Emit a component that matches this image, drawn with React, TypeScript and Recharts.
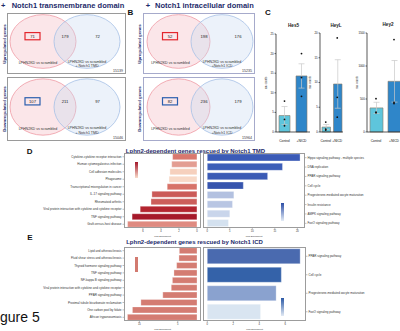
import React from 'react';
import {
  ScatterChart,
  Scatter,
  XAxis,
  YAxis,
  BarChart,
  Bar,
  Cell,
  ComposedChart,
  Line,
  ErrorBar,
} from 'recharts';

const FONT = '"Liberation Sans", Arial, Helvetica, sans-serif';
const NAVY = '#1d2a6a';

// Venn counts, always [LPHN2KD only, shared, rescue only]
const vennRegions = ['LPHN2KD only', 'shared', 'rescue only'];
const tmdUpCounts = [71, 179, 72];
const tmdDownCounts = [107, 211, 97];
const icdUpCounts = [52, 198, 176];
const icdDownCounts = [82, 236, 179];
const vennTotals = [15139, 15046, 15235, 15964];

// C: raw counts, Control vs +NICD
const cGroups = ['Control', '+NICD'];
const hes5Mean = [4.2, 14.3];
const hes5Err = [2.3, 3.1];
const hes5Points = [[7.9, 3.2, 1.6], [20, 13.9, 9.1]];
const heyLMean = [1.0, 9.7];
const heyLErr = [0.5, 4.9];
const heyLPoints = [[2.0, 0.6, 0.4], [19, 7, 3]];
const hey2Mean = [365, 768];
const hey2Err = [85, 315];
const hey2Points = [[505, 300, 290], [1400, 430, 450]];
const hes5Ticks = [0, 5, 10, 15, 20, 25];
const heyLTicks = [0, 5, 10, 15, 20];
const hey2Ticks = [0, 500, 1000, 1500];

// D: rescued by Notch1 TMD
const tmdRedTerms = [
  'Cytokine-cytokine receptor interaction',
  'Human cytomegalovirus infection',
  'Cell adhesion molecules',
  'Phagosome',
  'Transcriptional misregulation in cancer',
  'IL-17 signaling pathway',
  'Rheumatoid arthritis',
  'Viral protein interaction with cytokine and cytokine receptor',
  'TNF signaling pathway',
  'Graft-versus-host disease',
];
const tmdRedFold = [2.7, 2.8, 3.0, 3.1, 3.3, 5.0, 5.1, 6.3, 7.2, 7.7];
const tmdRedColors = ['#d9786e', '#e39d92', '#f6d0bd', '#f8d9c7', '#d77268', '#cb5a58', '#cc5e5b', '#b32530', '#a6192a', '#df8b81'];
const tmdBlueTerms = [
  'Hippo signaling pathway - multiple species',
  'DNA replication',
  'PPAR signaling pathway',
  'Cell cycle',
  'Progesterone-mediated oocyte maturation',
  'Insulin resistance',
  'AMPK signaling pathway',
  'FoxO signaling pathway',
];
const tmdBlueFold = [20.6, 16.7, 13.4, 8.0, 5.9, 5.6, 5.0, 4.7];
const tmdBlueColors = ['#3b5bb7', '#3d5eb8', '#3a5ab5', '#3755ae', '#b3c1e0', '#b9c6e3', '#c9d5eb', '#d4e1ef'];

// E: rescued by Notch1 ICD
const icdRedTerms = [
  'Lipid and atherosclerosis',
  'Fluid shear stress and atherosclerosis',
  'Thyroid hormone signaling pathway',
  'TNF signaling pathway',
  'NF-kappa B signaling pathway',
  'Viral protein interaction with cytokine and cytokine receptor',
  'PPAR signaling pathway',
  'Proximal tubule bicarbonate reclamation',
  'One carbon pool by folate',
  'African trypanosomiasis',
];
const icdRedFold = [4.6, 4.7, 5.3, 6.0, 6.4, 6.7, 8.9, 14.6, 16.8, 18.1];
const icdBlueTerms = [
  'PPAR signaling pathway',
  'Cell cycle',
  'Progesterone-mediated oocyte maturation',
  'FoxO signaling pathway',
];
const icdBlueFold = [7.15, 5.7, 5.3, 4.1];
const icdBlueColors = ['#4a6aaf', '#3462a9', '#8aa2cf', '#d9e5f1'];

function Txt({ x, y, size, bold, color = '#111', anchor = 'middle', rotate, children }: any) {
  const tx = anchor === 'middle' ? '-50%' : anchor === 'end' ? '-100%' : '0';
  return (
    <div
      style={{
        position: 'absolute',
        left: x,
        top: y,
        fontSize: size,
        fontWeight: bold ? 700 : 400,
        color,
        lineHeight: 1,
        whiteSpace: 'nowrap',
        transform: `translate(${tx},-50%)${rotate ? ` rotate(${rotate}deg)` : ''}`,
      }}
    >
      {children}
    </div>
  );
}

function Venn(p: any) {
  const data = p.counts.map((n: number, i: number) => ({ region: vennRegions[i], n, y: 0.5 }));
  const h = p.height;
  const ry = h * 0.44;
  const small = { fontSize: 3.6, fill: '#333', textAnchor: 'middle', dominantBaseline: 'central' } as any;

  const circles = (s: any) => {
    if (s.payload.region !== vennRegions[1]) return <g />;
    const rx = s.cx + p.redDx;
    const bx = s.cx + p.blueDx;
    return (
      <g>
        <ellipse cx={rx} cy={s.cy - 2} rx={p.redRx} ry={ry} fill="#f6c3ca" fillOpacity={0.42} stroke="#ef9aa5" strokeWidth={0.8} />
        <ellipse cx={bx} cy={s.cy - 2} rx={p.blueRx} ry={ry} fill="#c9daf1" fillOpacity={0.35} stroke="#a6c0e6" strokeWidth={0.8} />
        <text x={rx + p.redLabelDx} y={s.cy + 0.32 * h} {...small}>LPHN2KD vs scrambled</text>
        <text x={bx} y={s.cy + 0.3 * h} {...small}>LPHN2KD vs scrambled</text>
        <text x={bx} y={s.cy + 0.37 * h} {...small}>{p.rescue}</text>
        <text x={p.width - 3} y={s.cy + 0.45 * h} {...small} textAnchor="end">{p.total}</text>
      </g>
    );
  };

  const numbers = (s: any) => {
    const y = s.cy - 0.12 * h;
    return (
      <g>
        {s.payload.region === vennRegions[0] && (
          <rect x={s.cx - 7.5} y={y - 3.6} width={15} height={7.2} fill="none" stroke={p.boxColor} strokeWidth={1.2} />
        )}
        <text x={s.cx} y={y} fontSize={4.2} fill="#222" textAnchor="middle" dominantBaseline="central">{s.payload.n}</text>
      </g>
    );
  };

  return (
    <div style={{ position: 'absolute', left: p.left, top: p.top, width: p.width, height: h, border: `1.2px solid ${p.frame}`, boxSizing: 'border-box' }}>
      <div style={{ position: 'absolute', left: -1.2, top: -1.2 }}>
        <ScatterChart width={p.width} height={h} margin={{ top: 0, right: p.mr, bottom: 0, left: p.ml }}>
          <XAxis dataKey="region" type="category" allowDuplicatedCategory={false} hide />
          <YAxis type="number" domain={[0, 1]} hide />
          <Scatter data={data} dataKey="y" shape={circles} isAnimationActive={false} />
          <Scatter data={data} dataKey="y" shape={numbers} isAnimationActive={false} />
        </ScatterChart>
      </div>
    </div>
  );
}

const groupTick = (t: any) => (
  <text x={t.x} y={t.y} fontSize={3.3} fill="#111" textAnchor="middle" dominantBaseline="hanging">
    {t.payload.value}
  </text>
);

function GeneBar(p: any) {
  const data = cGroups.map((group, i) => ({
    group,
    mean: p.means[i],
    err: p.errs[i],
    a: p.points[i][0],
    b: p.points[i][1],
    c: p.points[i][2],
  }));
  const yW = 12;
  const plotH = 132 - p.plotTop;
  const dot = { r: 0.9, fill: '#111', stroke: 'none' };
  return (
    <div style={{ position: 'absolute', left: p.plotLeft - yW, top: p.plotTop - 2 }}>
      <ComposedChart width={yW + p.plotW + 6} height={2 + plotH + 10} data={data} margin={{ top: 2, right: 6, bottom: 0, left: 0 }}>
        <XAxis
          dataKey="group"
          height={10}
          tickLine={false}
          interval={0}
          tickMargin={1.5}
          axisLine={{ stroke: '#111', strokeWidth: 0.7 }}
          tick={groupTick}
        />
        <YAxis
          width={yW}
          domain={[0, p.ticks[p.ticks.length - 1]]}
          ticks={p.ticks}
          tickSize={1.5}
          tickMargin={0.8}
          axisLine={{ stroke: '#111', strokeWidth: 0.7 }}
          tickLine={{ stroke: '#111', strokeWidth: 0.6 }}
          tick={{ fontSize: 2.8, fill: '#111' }}
          label={{ value: 'raw counts', angle: -90, position: 'insideLeft', offset: 2, style: { textAnchor: 'middle', fontSize: 2.6, fill: '#333' } }}
        />
        <Bar dataKey="mean" barSize={p.barSize} stroke="#8a7a68" strokeWidth={0.6} isAnimationActive={false}>
          <Cell fill="#5ec5dc" />
          <Cell fill="#2f86c9" />
          <ErrorBar dataKey="err" width={3} stroke="#c9c9c9" strokeWidth={0.7} />
        </Bar>
        <Line dataKey="a" stroke="none" dot={dot} activeDot={false} isAnimationActive={false} />
        <Line dataKey="b" stroke="none" dot={dot} activeDot={false} isAnimationActive={false} />
        <Line dataKey="c" stroke="none" dot={dot} activeDot={false} isAnimationActive={false} />
      </ComposedChart>
    </div>
  );
}

function Enrich(p: any) {
  const data = p.terms.map((term: string, i: number) => ({ term, fe: p.values[i] }));
  const isLeft = p.side === 'left';
  const axisH = 10;
  const chartLeft = isLeft ? p.plotLeft - p.labelW : p.plotLeft;
  const thin = { stroke: '#555', strokeWidth: 0.4 };
  const termTick = (t: any) => (
    <text x={t.x} y={t.y} fontSize={3} fill="#333" textAnchor={isLeft ? 'end' : 'start'} dominantBaseline="central">
      {t.payload.value}
    </text>
  );
  const numTick = (t: any) => (
    <text x={t.x} y={t.y} fontSize={2.6} fill="#333" textAnchor="middle" dominantBaseline="hanging">
      {t.payload.value}
    </text>
  );
  return (
    <>
      <div style={{ position: 'absolute', left: chartLeft, top: p.plotTop }}>
        <BarChart
          layout="vertical"
          width={p.labelW + p.plotW}
          height={p.plotH + axisH}
          data={data}
          margin={{ top: 0, right: 0, bottom: 0, left: 0 }}
          barCategoryGap={p.gap}
        >
          <XAxis
            type="number"
            domain={p.domain}
            ticks={p.ticks}
            reversed={isLeft}
            allowDataOverflow
            axisLine={false}
            tickSize={1.5}
            tickMargin={0.5}
            tickLine={thin}
            tick={numTick}
            height={axisH}
            label={{ value: 'Fold Enrichment', position: 'insideBottom', offset: 1, fontSize: 2.3, fill: '#333' }}
          />
          <YAxis
            type="category"
            dataKey="term"
            orientation={p.side}
            width={p.labelW}
            interval={0}
            axisLine={false}
            tickSize={1.5}
            tickMargin={1}
            tickLine={thin}
            tick={termTick}
          />
          <Bar dataKey="fe" stroke="rgba(255,255,255,0.5)" strokeWidth={0.6} isAnimationActive={false}>
            {data.map((d: any, i: number) => (
              <Cell key={d.term + i} fill={p.colors[i] ?? p.colors[0]} />
            ))}
          </Bar>
        </BarChart>
      </div>
      <div
        style={{
          position: 'absolute',
          left: p.plotLeft,
          top: p.plotTop,
          width: p.plotW,
          height: p.plotH,
          border: '1.5px solid #9c9c9c',
          boxSizing: 'border-box',
        }}
      />
    </>
  );
}

function Gradient({ x, y, h, from, to }: any) {
  return <div style={{ position: 'absolute', left: x, top: y, width: 2.7, height: h, background: `linear-gradient(to bottom, ${from}, ${to})` }} />;
}

export default function App() {
  return (
    <div style={{ position: 'absolute', left: 0, top: 0, width: 400, height: 331, overflow: 'hidden', background: '#fff', fontFamily: FONT }}>
      {/* A / B headers */}
      <Txt x={3.3} y={6} size={7.5} bold color={NAVY}>+</Txt>
      <Txt x={11.7} y={6} size={7.5} bold color={NAVY} anchor="start">Notch1 transmembrane domain</Txt>
      <Txt x={130.5} y={13} size={8} bold>B</Txt>
      <Txt x={148} y={6} size={7.5} bold color={NAVY}>+</Txt>
      <Txt x={155} y={6} size={7.5} bold color={NAVY} anchor="start">Notch1 intracellular domain</Txt>

      <Txt x={4.5} y={44} size={4.4} bold color={NAVY} rotate={-90}>Upregulated genes</Txt>
      <Txt x={4.5} y={109} size={4.4} bold color={NAVY} rotate={-90}>Downregulated genes</Txt>
      <Txt x={139.5} y={44} size={4.4} bold color={NAVY} rotate={-90}>Upregulated genes</Txt>
      <Txt x={139.5} y={109} size={4.4} bold color={NAVY} rotate={-90}>Downregulated genes</Txt>

      <Venn counts={tmdUpCounts} total={vennTotals[0]} rescue="+ Notch1 TMD" boxColor="#e3262d" frame="#9a9a9a"
        left={7} top={13} width={119} height={61} ml={9.25} mr={12.25} redDx={-22} blueDx={22} redRx={33} blueRx={33} redLabelDx={-5} />
      <Venn counts={tmdDownCounts} total={vennTotals[1]} rescue="+ Notch1 TMD" boxColor="#2b5fae" frame="#9a9a9a"
        left={7} top={77} width={119} height={64} ml={9.25} mr={12.25} redDx={-22} blueDx={22} redRx={33} blueRx={33} redLabelDx={-5} />
      <Venn counts={icdUpCounts} total={vennTotals[2]} rescue="+Notch1 ICD" boxColor="#e3262d" frame="#a6aacb"
        left={143} top={13} width={112} height={61} ml={10} mr={0} redDx={-25.5} blueDx={18} redRx={31.5} blueRx={31} redLabelDx={-8} />
      <Venn counts={icdDownCounts} total={vennTotals[3]} rescue="+Notch1 ICD" boxColor="#2b5fae" frame="#a6aacb"
        left={143} top={77} width={112} height={64} ml={10} mr={0} redDx={-25.5} blueDx={18} redRx={31.5} blueRx={31} redLabelDx={-8} />

      {/* C */}
      <Txt x={268} y={13} size={8} bold>C</Txt>
      <Txt x={293.5} y={26} size={4.6} bold color="#222">Hes5</Txt>
      <Txt x={336} y={26} size={4.6} bold color="#222">HeyL</Txt>
      <Txt x={388} y={25} size={4.6} bold color="#222">Hey2</Txt>
      <GeneBar means={hes5Mean} errs={hes5Err} points={hes5Points} ticks={hes5Ticks} plotLeft={276} plotW={34} plotTop={34} barSize={11} />
      <GeneBar means={heyLMean} errs={heyLErr} points={heyLPoints} ticks={heyLTicks} plotLeft={320} plotW={23} plotTop={33} barSize={8.5} />
      <GeneBar means={hey2Mean} errs={hey2Err} points={hey2Points} ticks={hey2Ticks} plotLeft={367} plotW={36} plotTop={33} barSize={13} />

      {/* D */}
      <Txt x={29.7} y={152} size={8} bold>D</Txt>
      <Txt x={195.5} y={150.5} size={6} bold color={NAVY}>Lphn2-dependent genes rescued by Notch1 TMD</Txt>
      <Enrich side="left" terms={tmdRedTerms} values={tmdRedFold} colors={tmdRedColors}
        plotLeft={124} plotTop={153} plotW={77} plotH={75} domain={[-0.45, 8.1]} ticks={[0, 2, 4, 6]} labelW={124} gap={0.75} />
      <Enrich side="right" terms={tmdBlueTerms} values={tmdBlueFold} colors={tmdBlueColors}
        plotLeft={203} plotTop={153} plotW={102} plotH={75} domain={[-0.95, 21.7]} ticks={[0, 5, 10, 15, 20]} labelW={97} gap={0.95} />
      <Gradient x={135} y={162} h={16} from="#a3172a" to="#f9dccb" />
      <Gradient x={281} y={203} h={18} from="#2c4ea6" to="#e4ecf6" />

      {/* E */}
      <Txt x={30} y={237.5} size={8} bold>E</Txt>
      <Txt x={194.5} y={242} size={6} bold color={NAVY}>Lphn2-dependent genes rescued by Notch1 ICD</Txt>
      <Enrich side="left" terms={icdRedTerms} values={icdRedFold} colors={['#d47c72']}
        plotLeft={124} plotTop={247} plotW={77} plotH={74} domain={[-1.04, 19.0]} ticks={[0, 5, 10, 15]} labelW={124} gap={0.7} />
      <Enrich side="right" terms={icdBlueTerms} values={icdBlueFold} colors={icdBlueColors}
        plotLeft={203} plotTop={247} plotW={103} plotH={74} domain={[-0.33, 7.6]} ticks={[0, 2, 4, 6]} labelW={97} gap={1.75} />
      <Gradient x={135} y={257} h={15} from="#d27a70" to="#d27a70" />
      <Gradient x={281} y={298} h={18} from="#2a58a5" to="#e2eaf4" />

      <Txt x={0} y={317} size={14} anchor="start" color="#111">gure 5</Txt>
    </div>
  );
}
